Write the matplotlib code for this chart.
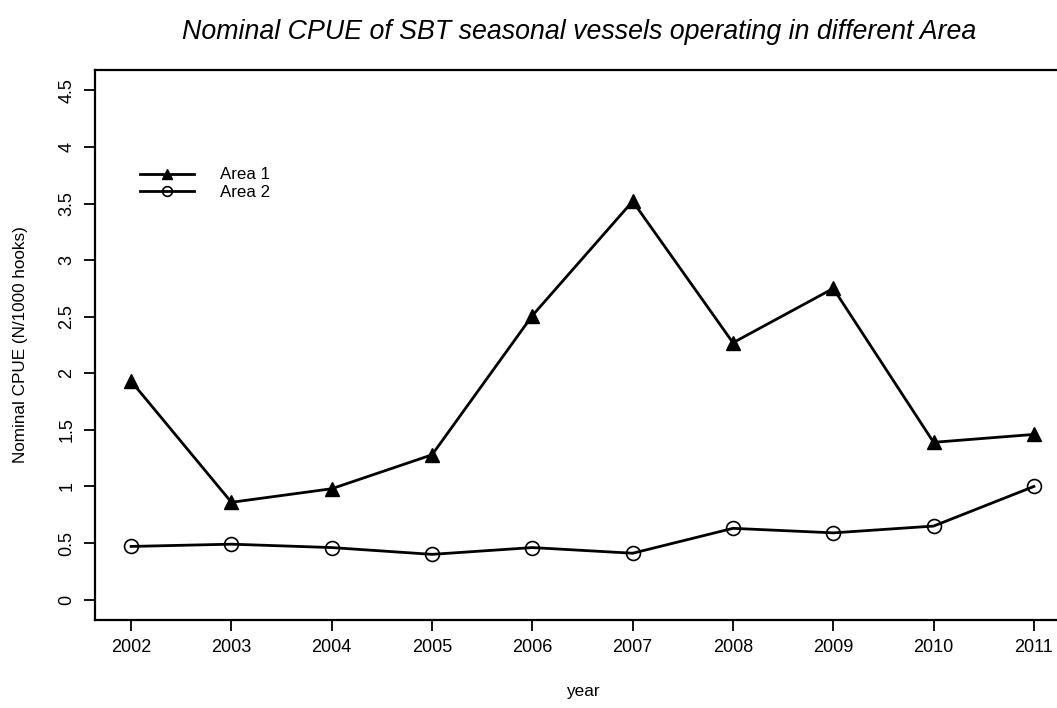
import matplotlib
matplotlib.use("Agg")
import matplotlib.pyplot as plt

plt.rcParams['font.family'] = ['Liberation Sans', 'DejaVu Sans']

years = [2002, 2003, 2004, 2005, 2006, 2007, 2008, 2009, 2010, 2011]
area1 = [1.93, 0.86, 0.98, 1.28, 2.51, 3.52, 2.27, 2.75, 1.39, 1.46]
area2 = [0.47, 0.49, 0.46, 0.40, 0.46, 0.41, 0.63, 0.59, 0.65, 1.00]
yticks = [0, 0.5, 1, 1.5, 2, 2.5, 3, 3.5, 4, 4.5]
ytick_labels = ['0', '0.5', '1', '1.5', '2', '2.5', '3', '3.5', '4', '4.5']

fig = plt.figure(figsize=(10.57, 7.08), dpi=100)
# plot region runs past the right edge, as in the original
ax = fig.add_axes([0.0899, 0.1243, 0.9224, 0.7768])

ax.plot(years, area1, color='black', lw=2, marker='^', ms=10, label='Area 1')
ax.plot(years, area2, color='black', lw=2, marker='o', ms=10,
        markerfacecolor='none', markeredgewidth=1.2, label='Area 2')

ax.set_xlim(2001.64, 2011.36)
ax.set_ylim(-0.18, 4.68)
ax.set_xticks(years)
ax.set_yticks(yticks)
ax.set_yticklabels(ytick_labels, rotation=90, va='center')
ax.tick_params(direction='out', length=8, width=1.3, labelsize=13, pad=6)

for s in ['left', 'top', 'bottom']:
    ax.spines[s].set_linewidth(1.6)
ax.spines['right'].set_visible(False)

ax.set_ylabel('Nominal CPUE (N/1000 hooks)', fontsize=12.3, labelpad=22)
ax.set_xlabel('year', fontsize=12.3, labelpad=20)
fig.text(0.548, 0.955, 'Nominal CPUE of SBT seasonal vessels operating in different Area',
         ha='center', va='center', fontsize=19.3, style='italic')

ax.legend(loc='upper left', bbox_to_anchor=(0.118, 0.785), bbox_transform=fig.transFigure,
          frameon=False, fontsize=12.2, handlelength=3.2, handletextpad=1.5,
          labelspacing=0.15, markerscale=0.7)

fig.savefig('out.png', dpi=100)
